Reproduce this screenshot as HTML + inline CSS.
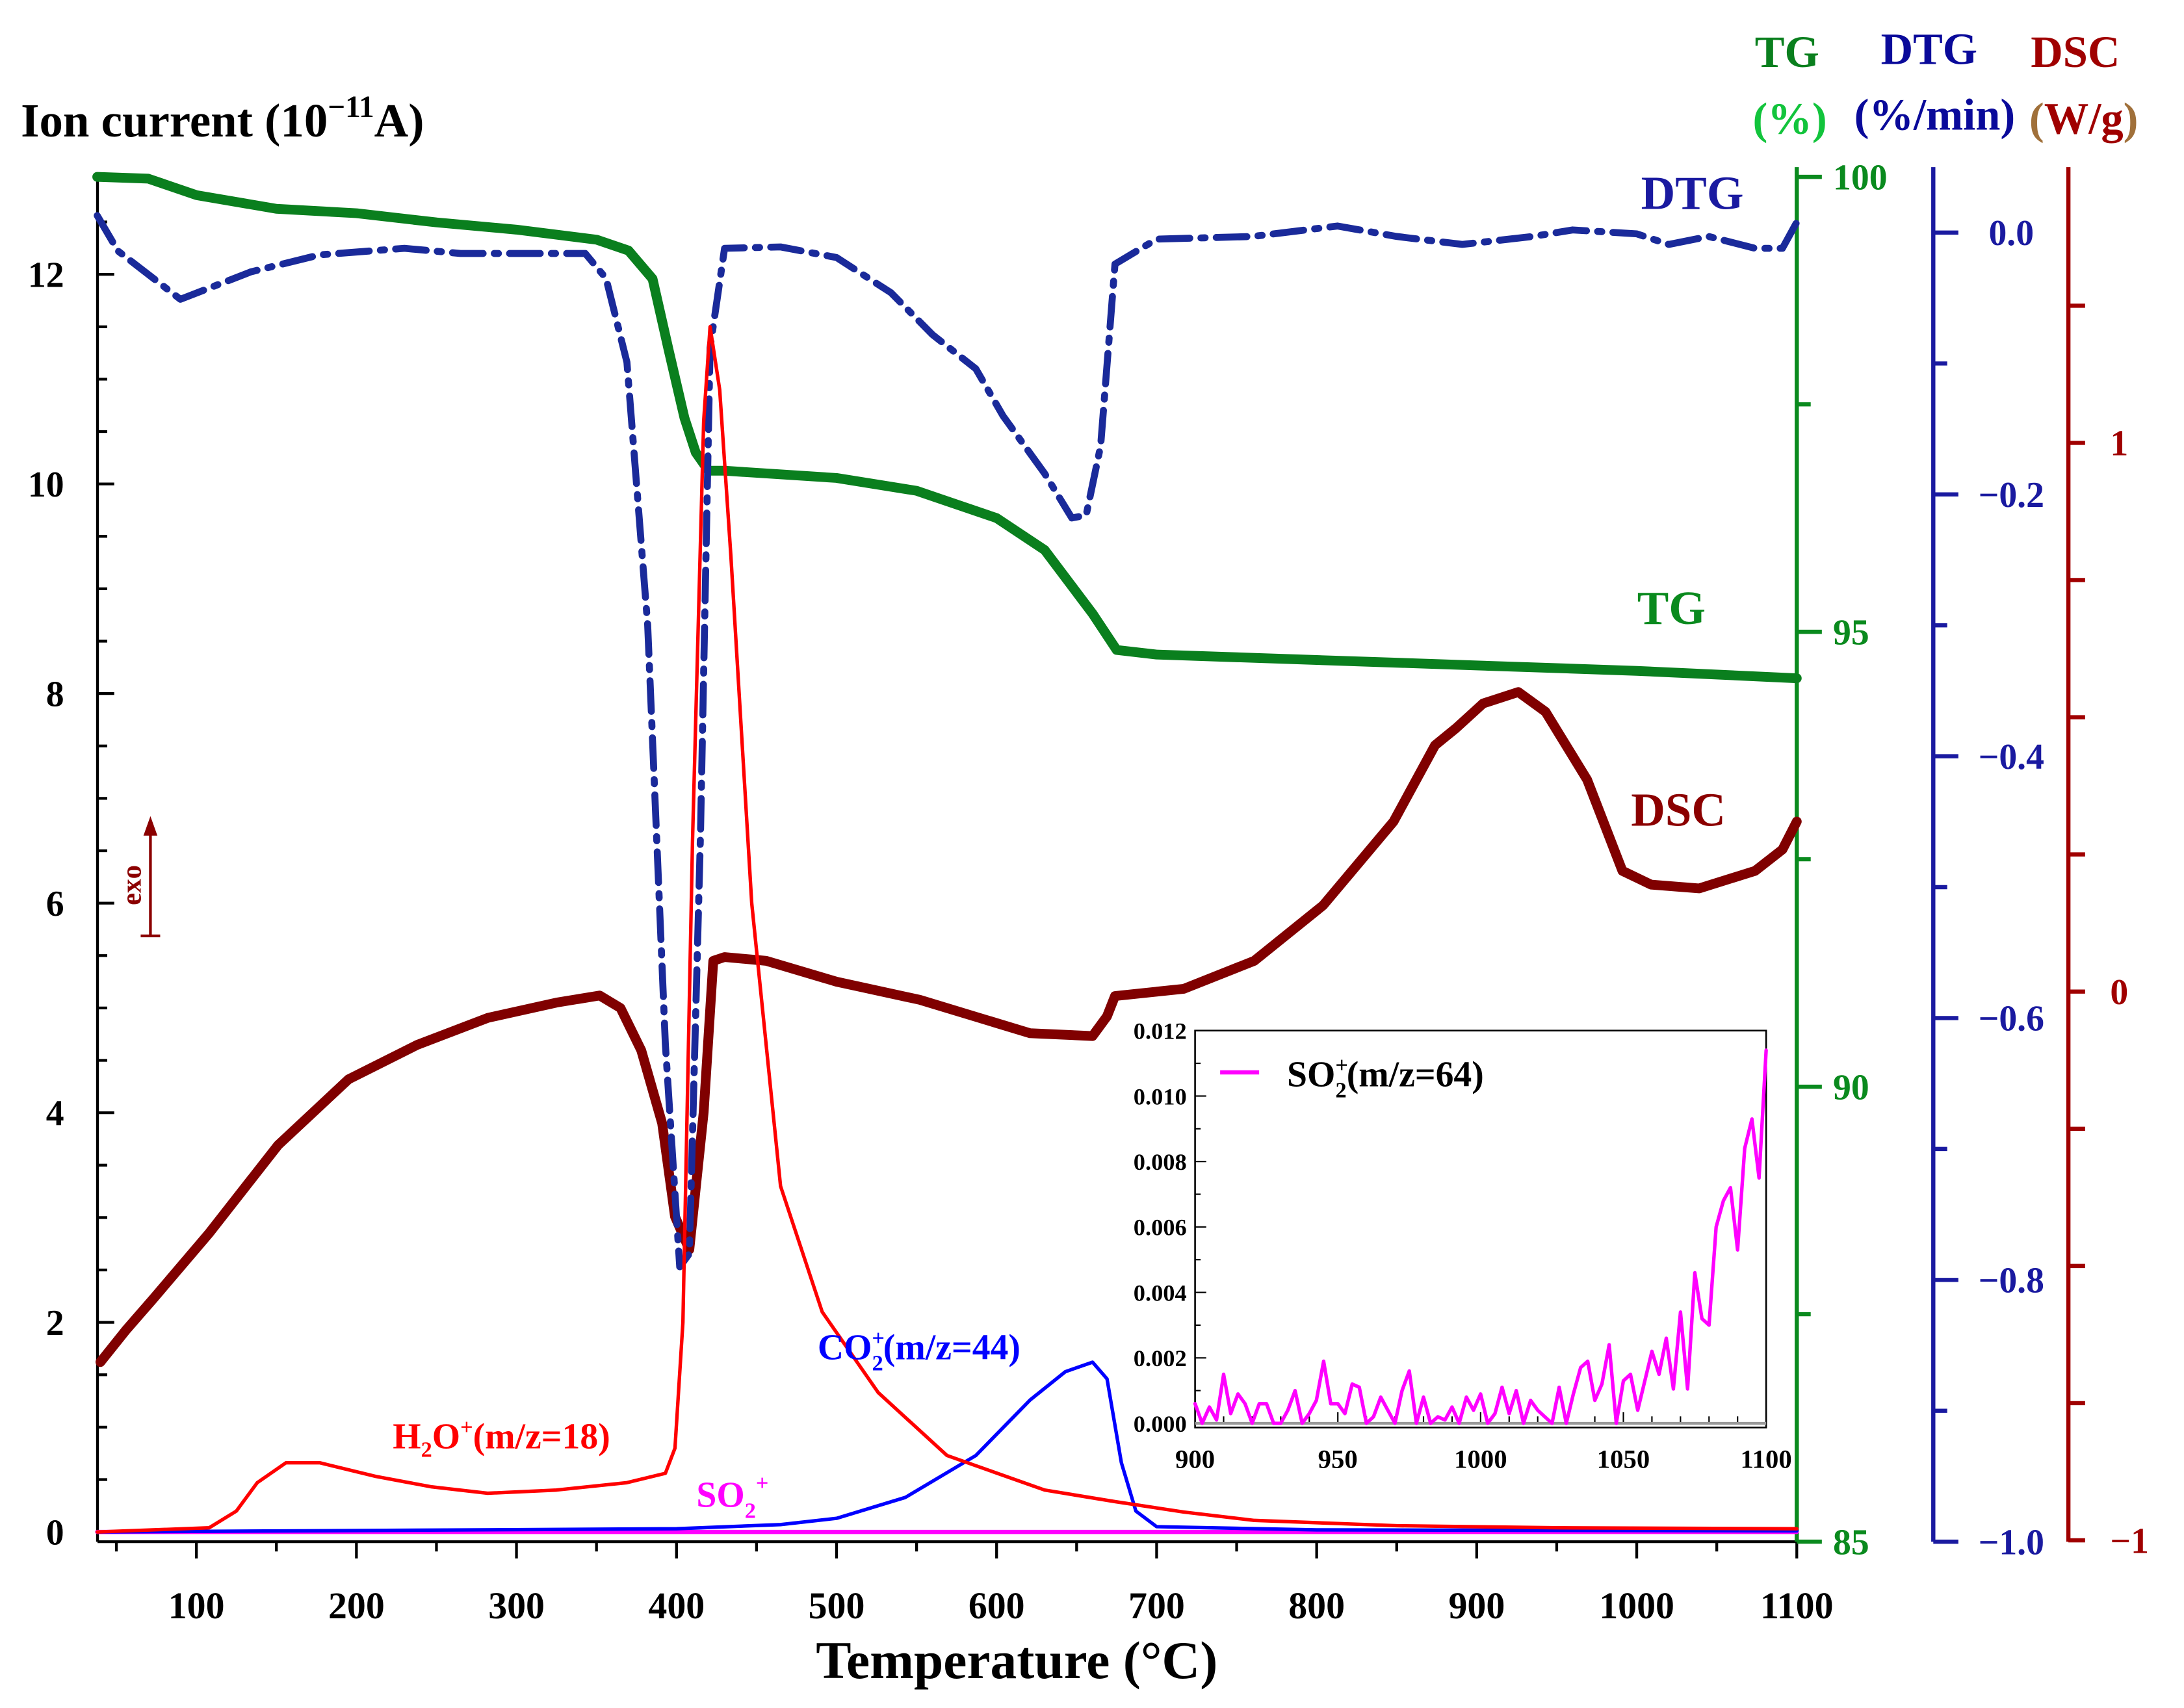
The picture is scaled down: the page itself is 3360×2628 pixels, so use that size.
<!DOCTYPE html>
<html><head><meta charset="utf-8"><style>
html,body{margin:0;padding:0;background:#fff;}
svg{display:block;}
text{font-family:"Liberation Serif",serif;font-weight:bold;}
</style></head><body>
<svg id="chart" width="3360" height="2628" viewBox="0 0 1568 1226.4" preserveAspectRatio="none" xmlns="http://www.w3.org/2000/svg">
<rect width="1568" height="1227" fill="#fff"/>
<g id="axes"></g>
<g id="series"></g>
<g id="labels">
<text x="15" y="98" font-size="34" fill="#000">Ion current (10<tspan font-size="22" dy="-14">−11</tspan><tspan dy="14">A)</tspan></text>
<text x="1283" y="48" font-size="32" fill="#0a7f1e" text-anchor="middle">TG</text>
<text x="1285" y="96" font-size="32" fill="#12c43c" text-anchor="middle">(%)</text>
<text x="1385" y="46" font-size="32" fill="#0a0a9a" text-anchor="middle">DTG</text>
<text x="1389" y="93" font-size="32" fill="#0a0a9a" text-anchor="middle">(%/min)</text>
<text x="1490" y="48" font-size="32" fill="#a00000" text-anchor="middle">DSC</text>
<text x="1496" y="96" font-size="32" fill="#a00000" text-anchor="middle"><tspan fill="#a0703a">(</tspan>W/g<tspan fill="#a0703a">)</tspan></text>
<text x="730" y="1205" font-size="38" fill="#000" text-anchor="middle">Temperature (°C)</text>
<text x="1215" y="150" font-size="34" fill="#1a1aa0" text-anchor="middle">DTG</text>
<text x="1200" y="448" font-size="34" fill="#0a8a1e" text-anchor="middle">TG</text>
<text x="1205" y="593" font-size="34" fill="#8b0000" text-anchor="middle">DSC</text>
<text x="587" y="976" font-size="26" fill="#0000ff">CO<tspan font-size="16" dy="-10">+</tspan><tspan font-size="16" dx="-9" dy="18">2</tspan><tspan dy="-8">(m/z=44)</tspan></text>
<text x="282" y="1040" font-size="26" fill="#ff0000">H<tspan font-size="16" dy="6">2</tspan><tspan dy="-6">O</tspan><tspan font-size="16" dy="-10">+</tspan><tspan dy="10">(m/z=18)</tspan></text>
<text x="500" y="1082" font-size="26" fill="#ff00ff">SO<tspan font-size="16" dy="8">2</tspan><tspan font-size="16" dy="-20">+</tspan></text>
<g>
<line x1="108" y1="672" x2="108" y2="596" stroke="#8b0000" stroke-width="2"/>
<polygon points="108,586 103,600 113,600" fill="#8b0000"/>
<line x1="101" y1="672" x2="115" y2="672" stroke="#8b0000" stroke-width="2"/>
<text x="0" y="0" font-size="20" fill="#8b0000" transform="translate(101,650) rotate(-90)">exo</text>
</g>
</g>
<g id="inset"></g>
</svg>
<script>
var NS="http://www.w3.org/2000/svg";
// ---- data ----
var tgT=[38,70,100,150,200,250,300,350,370,385,395,405,412,420,430,500,550,600,630,660,675,700,800,900,1000,1100];
var tgV=[100,99.98,99.8,99.65,99.6,99.5,99.42,99.31,99.19,98.88,98.1,97.35,96.97,96.77,96.77,96.69,96.55,96.25,95.9,95.2,94.8,94.75,94.69,94.63,94.57,94.49];
var dtgT=[38,51,90,134,177,230,265,343,356,369,382,393,402,408,415,421,430,465,500,534,560,587,604,630,647,656,665,674,700,760,813,850,891,935,960,1000,1020,1045,1074,1091,1100];
var dtgV=[0.013,-0.014,-0.051,-0.03,-0.017,-0.012,-0.016,-0.016,-0.035,-0.099,-0.30,-0.62,-0.79,-0.78,-0.46,-0.088,-0.012,-0.011,-0.019,-0.046,-0.078,-0.104,-0.14,-0.184,-0.218,-0.216,-0.163,-0.024,-0.005,-0.003,0.005,-0.003,-0.009,-0.003,0.002,-0.001,-0.009,-0.003,-0.012,-0.012,0.008];
var dscT=[40,56,73,108,151,195,238,282,325,352,365,378,391,399,408,417,423,430,456,500,552,587,621,660,669,674,717,761,804,848,874,887,904,926,943,969,991,1009,1039,1074,1091,1100];
var dscV=[-0.675,-0.617,-0.56,-0.44,-0.28,-0.16,-0.097,-0.048,-0.02,-0.007,-0.03,-0.107,-0.24,-0.41,-0.47,-0.22,0.056,0.063,0.056,0.018,-0.015,-0.046,-0.076,-0.081,-0.045,-0.008,0.005,0.056,0.157,0.31,0.449,0.48,0.525,0.546,0.51,0.386,0.22,0.195,0.188,0.22,0.259,0.31];
var h2oT=[38,108,125,138,156,177,212,247,282,325,369,393,399,404,410,417,421,427,434,447,465,491,526,569,630,674,717,761,850,950,1100];
var h2oV=[0,0.04,0.2,0.47,0.66,0.66,0.53,0.43,0.37,0.4,0.47,0.56,0.8,2.0,6.6,10.6,11.5,10.9,9.3,6.0,3.3,2.1,1.33,0.73,0.4,0.29,0.19,0.11,0.06,0.04,0.03];
var co2T=[38,400,465,500,543,587,621,643,660,669,678,687,700,800,1100];
var co2V=[0,0.03,0.07,0.13,0.33,0.73,1.26,1.53,1.62,1.46,0.66,0.2,0.05,0.02,0.01];
var so2T=[38,1100];
var so2V=[0,0];
var insetT=[900,902.5,905,907.5,910,912.5,915,917.5,920,922.5,925,927.5,930,932.5,935,937.5,940,942.5,945,947.5,950,952.5,955,957.5,960,962.5,965,967.5,970,972.5,975,977.5,980,982.5,985,987.5,990,992.5,995,997.5,1000,1002.5,1005,1007.5,1010,1012.5,1015,1017.5,1020,1022.5,1025,1027.5,1030,1032.5,1035,1037.5,1040,1042.5,1045,1047.5,1050,1052.5,1055,1057.5,1060,1062.5,1065,1067.5,1070,1072.5,1075,1077.5,1080,1082.5,1085,1087.5,1090,1092.5,1095,1097.5,1100];
var insetV=[0.6,0,0.5,0.1,1.5,0.3,0.9,0.6,0,0.6,0.6,0,0,0.4,1.0,0,0.3,0.7,1.9,0.6,0.6,0.3,1.2,1.1,0,0.2,0.8,0.4,0,1.0,1.6,0,0.8,0,0.2,0.1,0.5,0,0.8,0.4,0.9,0,0.3,1.1,0.3,1.0,0,0.7,0.4,0.2,0,1.1,0,0.9,1.7,1.9,0.7,1.2,2.4,0,1.3,1.5,0.4,1.3,2.2,1.5,2.6,1.05,3.4,1.05,4.6,3.2,3.0,6.0,6.8,7.2,5.3,8.4,9.3,7.5,11.4];
var xTicks=[100,200,300,400,500,600,700,800,900,1000,1100];
var ionTicks=[0,2,4,6,8,10,12];
var tgTicks=[85,90,95,100];
var dtgTicks=[0.0,-0.2,-0.4,-0.6,-0.8,-1.0];
var dscTicks=[-1,0,1];
var insetXTicks=[900,950,1000,1050,1100];
var insetYTicks=[0,0.002,0.004,0.006,0.008,0.010,0.012];
// ---- scales ----
function X(t){return 141+(t-100)*1.149;}
function Yion(v){return 1100-v*75.25;}
function Ytg(v){return 127+(100-v)*65.33;}
function Ydtg(v){return 167-v*940;}
function Ydsc(v){return 712-v*394;}
function Xi(t){return 858+(t-900)*2.05;}
function Yi(v){return 1022-v*23500;}
function mk(tag,attrs,parent){var e=document.createElementNS(NS,tag);for(var k in attrs)e.setAttribute(k,attrs[k]);parent.appendChild(e);return e;}
var axes=document.getElementById('axes'),ser=document.getElementById('series'),ins=document.getElementById('inset');
function line(x1,y1,x2,y2,c,w,p){return mk('line',{x1:x1,y1:y1,x2:x2,y2:y2,stroke:c,'stroke-width':w},p);}
function txt(x,y,s,fs,c,anchor,p){var t=mk('text',{x:x,y:y,'font-size':fs,fill:c,'text-anchor':anchor},p);t.textContent=s;return t;}
// left ion axis
var la=line(70,125,70,1107,'#000',2,axes);


for(var v=0;v<=12.9;v+=0.5){line(70,Yion(v),v%2===0?82:77,Yion(v),'#000',2,axes);}
ionTicks.forEach(function(v){var t=txt(46,Yion(v)+9,String(v),26,'#000','end',axes);

});
// bottom axis
var ba=line(70,1107,1290,1107,'#000',2,axes);


for(var t=50;t<=1100;t+=50){if(X(t)>=70)line(X(t),1107,X(t),t%100===0?1119:1114,'#000',2,axes);}
xTicks.forEach(function(v){var t=txt(X(v),1162,String(v),27,'#000','middle',axes);

});
// TG axis
var ga=line(1290,120,1290,1107,'#0a8a1e',3,axes);


for(var v=85;v<=100;v+=2.5){line(1290,Ytg(v),v%5===0?1308:1300,Ytg(v),'#0a8a1e',3,axes);}
tgTicks.forEach(function(v){var t=txt(1316,Ytg(v)+9,String(v),26,'#0a8a1e','start',axes);

});
// DTG axis
var da=line(1388,120,1388,1107,'#1a1aa0',3,axes);


for(var i=0;i<=10;i++){var v=-i*0.1;line(1388,Ydtg(v),i%2===0?1406:1398,Ydtg(v),'#1a1aa0',3,axes);}
dtgTicks.forEach(function(v){var t=txt(1444,Ydtg(v)+9,(v<0?'−':'')+Math.abs(v).toFixed(1),26,'#1a1aa0','middle',axes);

});
// DSC axis
var ra=line(1485,120,1485,1107,'#a00000',3,axes);


for(var i=-4;i<=5;i++){var v=i*0.25;line(1485,Ydsc(v),1497,Ydsc(v),'#a00000',3,axes);}
dscTicks.forEach(function(v){var t=txt(1515,Ydsc(v)+9,(v<0?'−':'')+Math.abs(v),26,'#a00000','start',axes);

});
// series
function path(T,V,fx,fy,c,w,dash,name,p){var d='';for(var i=0;i<T.length;i++)d+=(i?'L':'M')+fx(T[i]).toFixed(1)+','+fy(V[i]).toFixed(1);
var e=mk('path',{d:d,fill:'none',stroke:c,'stroke-width':w,'stroke-linejoin':'round','stroke-linecap':'round'},p);if(dash)e.setAttribute('stroke-dasharray',dash);

return e;}
path(so2T,so2V,X,Yion,'#ff00ff',3,null,'so2-line',ser);
path(co2T,co2V,X,Yion,'#0000ff',2.5,null,'co2-line',ser);
path(dscT,dscV,X,Ydsc,'#800000',7,null,'dsc-line',ser);
path(tgT,tgV,X,Ytg,'#0a7f1e',7,null,'tg-line',ser);
path(dtgT,dtgV,X,Ydtg,'#1a2a9a',5,'22 8 3 8','dtg-line',ser);
path(h2oT,h2oV,X,Yion,'#ff0000',2.5,null,'h2o-line',ser);
// inset
var box=mk('rect',{x:858,y:740,width:410,height:285,fill:'#fff',stroke:'#000','stroke-width':1.2},ins);


for(var t=900;t<=1100;t+=10)line(Xi(t),1022,Xi(t),t%50===0?1014:1017,'#000',1,ins);
for(var v=0;v<=0.0121;v+=0.001)line(858,Yi(v),Math.round(v*1000)%2===0?866:862,Yi(v),'#000',1,ins);
insetXTicks.forEach(function(v){var t=txt(Xi(v),1054,String(v),19,'#000','middle',ins);

});
insetYTicks.forEach(function(v){var t=txt(852,Yi(v)+6,v.toFixed(3),17,'#000','end',ins);

});
line(858,1022,1268,1022,'#999',2,ins);
path(insetT,insetV,Xi,function(v){return Yi(v/1000);},'#ff00ff',2.5,null,'inset-so2-line',ins);
var lg=mk('g',{},ins);


line(876,770,904,770,'#ff00ff',3,lg);
var lt=mk('text',{x:924,y:780,'font-size':26,fill:'#000'},lg);
lt.innerHTML='SO<tspan font-size="16" dy="-10">+</tspan><tspan font-size="16" dx="-9" dy="18">2</tspan><tspan dy="-8">(m/z=64)</tspan>';
</script>
</body></html>
